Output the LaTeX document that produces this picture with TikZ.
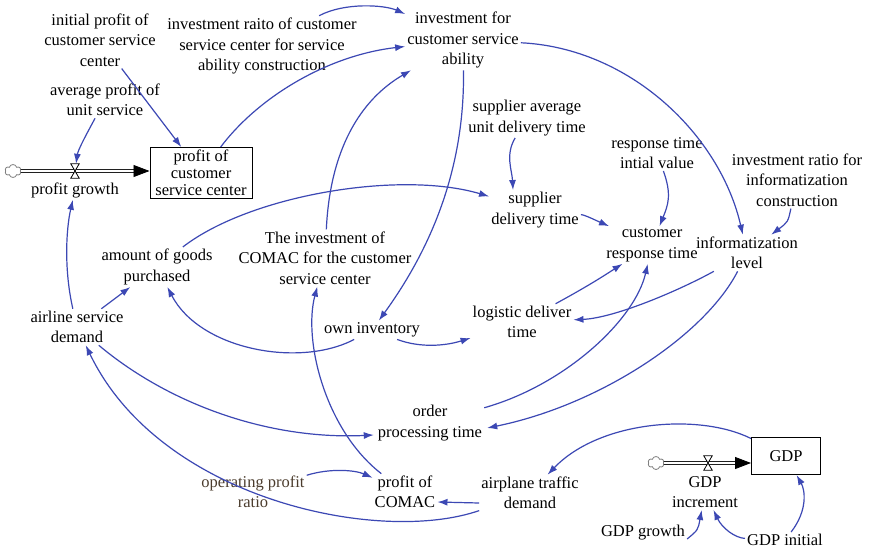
\documentclass[tikz,border=0pt]{standalone}
\usepackage{fontspec}
\setmainfont{Liberation Serif}
\usetikzlibrary{arrows.meta,shapes.symbols,calc}
\definecolor{linkblue}{RGB}{60,72,180}
\definecolor{oprcol}{RGB}{75,60,45}
\begin{document}
\begin{tikzpicture}[x=1pt,y=-1pt,
 txt/.style={align=center,inner sep=2pt,font=\fontsize{16.5}{20.5}\selectfont},
 stockbox/.style={draw,line width=1pt,align=center,inner sep=0pt,font=\fontsize{16.5}{17}\selectfont},
 arr/.style={draw=linkblue,line width=1.2pt,-{Latex[length=10pt,width=7pt]}},
 pipe/.style={double,double distance=2.2pt,line width=0.8pt},
 pipehead/.style={-{Triangle[length=16pt,width=12pt]},line width=0.8pt},
 valvept/.style={minimum width=8pt,minimum height=14pt,inner sep=0pt},
 valveshape/.style={draw,line width=0.8pt,fill=white},
 cloudsrc/.style={cloud,cloud puffs=6,draw=gray,line width=0.8pt,minimum width=16pt,minimum height=13pt,inner sep=0pt,aspect=1.2}]
\fill[white] (0,0) rectangle (878,552);
\useasboundingbox (0,0) rectangle (878,552);

% nodes
\node[txt] (ipcs) at (100,40) {initial profit of\\customer service\\center};
\node[txt] (irc) at (262,46) {investment raito of customer\\service center for service\\ability construction};
\node[txt] (ifcs) at (463,40) {investment for\\customer service\\ability};
\node[txt] (apus) at (105,100) {average profit of\\unit service};
\node[stockbox,minimum width=102pt,minimum height=51pt] (pcsc) at (201,173) {profit of\\customer\\service center};
\node[txt] (pg) at (75,190) {profit growth};
\node[txt] (sau) at (527,118) {supplier average\\unit delivery time};
\node[txt] (sdt) at (535,210) {supplier\\delivery time};
\node[txt] (rtiv) at (657,153) {response time\\intial value};
\node[txt] (irfic) at (797,180) {investment ratio for\\informatization\\construction};
\node[txt] (crt) at (652,245) {customer\\response time};
\node[txt] (il) at (747,253) {informatization\\level};
\node[txt] (agp) at (157,267) {amount of goods\\purchased};
\node[txt] (icomac) at (325,258) {The investment of\\COMAC for the customer\\service center};
\node[txt] (asd) at (77,327) {airline service\\demand};
\node[txt] (oi) at (372,330) {own inventory};
\node[txt] (ldt) at (522,322) {logistic deliver\\time};
\node[txt] (opt) at (430,423) {order\\processing time};
\node[txt] (pcomac) at (405,492) {profit of\\COMAC};
\node[txt,text=oprcol] (opr) at (253,492) {operating profit\\ratio};
\node[txt] (atd) at (530,493) {airplane traffic\\demand};
\node[stockbox,minimum width=69pt,minimum height=37pt] (gdp) at (786,456) {GDP};
\node[txt] (gdpinc) at (705,492) {GDP\\increment};
\node[txt] (gdpg) at (643,533) {GDP growth};
\node[txt] (gdpi) at (785,540) {GDP initial};

% flow 1
\node[cloudsrc] (cl1) at (13,171) {};
\coordinate (p1end) at (pcsc.west |- cl1);
\draw[pipe] (cl1) -- ($(p1end)+(-8,0)$);
\draw[pipehead] ($(p1end)+(-14,0)$) -- (p1end);
\node[valvept] (v1) at (75,171) {};
\draw[valveshape] (v1.north west) -- (v1.north east) -- (v1.south west) -- (v1.south east) -- cycle;

% flow 2
\node[cloudsrc] (cl2) at (656,463) {};
\coordinate (p2end) at (gdp.west |- cl2);
\draw[pipe] (cl2) -- ($(p2end)+(-8,0)$);
\draw[pipehead] ($(p2end)+(-14,0)$) -- (p2end);
\node[valvept] (v2) at (708,463) {};
\draw[valveshape] (v2.north west) -- (v2.north east) -- (v2.south west) -- (v2.south east) -- cycle;

% links
\draw[arr] (ipcs) -- (pcsc);
\draw[arr] (apus) .. controls (86,135) and (78,150) .. (v1);
\draw[arr] (asd) .. controls (64,270) and (66,230) .. (pg);
\draw[arr] (pcsc) .. controls (260,95) and (330,55) .. (ifcs);
\draw[arr] (irc) .. controls (345,2) and (385,5) .. (ifcs);
\draw[arr] (icomac) .. controls (330,150) and (360,100) .. (ifcs);
\draw[arr] (ifcs) .. controls (465,170) and (430,250) .. (oi);
\draw[arr] (ifcs) .. controls (630,48) and (720,135) .. (il);
\draw[arr] (sau) .. controls (505,155) and (512,170) .. ($(sdt.north)+(-22,0)$);
\draw[arr] (agp) .. controls (250,195) and (400,170) .. (sdt);
\draw[arr] (sdt) .. controls (585,215) and (595,220) .. (crt);
\draw[arr] (rtiv) .. controls (672,195) and (668,205) .. (crt);
\draw[arr] (irfic) .. controls (788,222) .. (il);
\draw[arr] (ldt) .. controls (590,285) and (605,275) .. (crt);
\draw[arr] (opt) .. controls (565,385) and (635,320) .. (crt);
\draw[arr] (il) .. controls (680,290) and (615,318) .. (ldt);
\draw[arr] (il) .. controls (705,335) and (600,405) .. ($(opt.east)+(3,5)$);
\draw[arr] (oi) .. controls (300,368) and (200,350) .. (agp);
\draw[arr] (oi) .. controls (420,348) and (445,346) .. (ldt);
\draw[arr] (asd) -- (agp);
\draw[arr] (asd) .. controls (170,405) and (270,440) .. ($(opt.west)+(-2,12)$);
\draw[arr] (atd) .. controls (380,545) and (160,500) .. (asd);
\draw[arr] ([yshift=-10pt]atd.west) -- ([yshift=-10pt]pcomac.east);
\draw[arr] (opr) .. controls (330,468) and (355,470) .. (pcomac);
\draw[arr] (pcomac) .. controls (325,430) and (303,340) .. (icomac);
\draw[arr] (gdp) .. controls (700,413) and (600,420) .. (atd);
\draw[arr] ([yshift=-6pt]gdpg.east) .. controls (698,530) .. (gdpinc);
\draw[arr] (gdpi) .. controls (735,538) and (722,528) .. (gdpinc);
\draw[arr] (gdpi) .. controls (808,510) and (805,490) .. (gdp);
\end{tikzpicture}
\end{document}
